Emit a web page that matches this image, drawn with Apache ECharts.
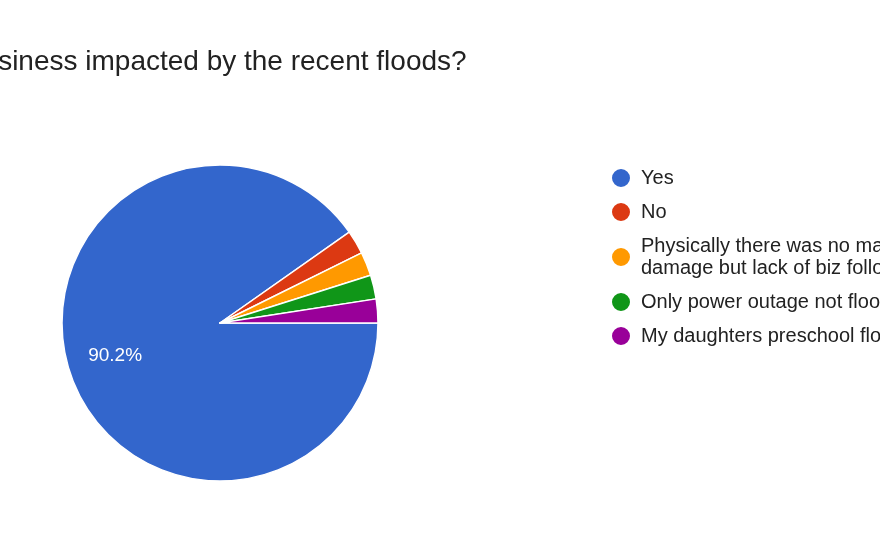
<!DOCTYPE html>
<html><head><meta charset="utf-8">
<script src="https://cdn.jsdelivr.net/npm/echarts@6/dist/echarts.min.js"></script>
<style>html,body{margin:0;padding:0;background:#fff}#c{width:880px;height:542px}</style>
</head><body><div id="c"></div>
<script>
const categories = ["Yes","No","Physically there was no major\ndamage but lack of biz following","Only power outage not flooding","My daughters preschool flooded"];
const values = [37,1,1,1,1];
const colors = ["#3366cc","#dc3912","#ff9900","#109618","#990099"];
const total = values.reduce((a,b)=>a+b,0);
const data = categories.map((n,i)=>({name:n,value:values[i]}));
const chart = echarts.init(document.getElementById('c'));
chart.setOption({
  animation:false,
  color:colors,
  title:{text:"Was your business impacted by the recent floods?",left:-163,top:43,
    textStyle:{fontFamily:"Liberation Sans, Arial",fontSize:28,fontWeight:'normal',color:'#222'}},
  legend:{orient:'vertical',left:605,top:162,icon:'circle',itemWidth:20,itemHeight:20,itemGap:12,
    textStyle:{fontFamily:"Liberation Sans, Arial",fontSize:20,color:'#222',lineHeight:22,padding:[0,0,0,5]}},
  series:[
    {type:'pie',center:[220,323],radius:[0,158],startAngle:0,clockwise:true,data:data,
     itemStyle:{borderColor:'#fff',borderWidth:1.5},label:{show:false},labelLine:{show:false},emphasis:{disabled:true}},
    {type:'pie',center:[220,323],radius:[56,158],startAngle:0,clockwise:true,silent:true,
     data:data.map((d,i)=>({name:d.name,value:d.value,label:{show:i===0}})),
     itemStyle:{color:'rgba(0,0,0,0)'},
     label:{position:'inside',formatter:p=>(p.value/total*100).toFixed(1)+'%',color:'#fff',fontSize:19,fontFamily:"Liberation Sans, Arial"},
     labelLine:{show:false},emphasis:{disabled:true}}
  ]
});
</script></body></html>
